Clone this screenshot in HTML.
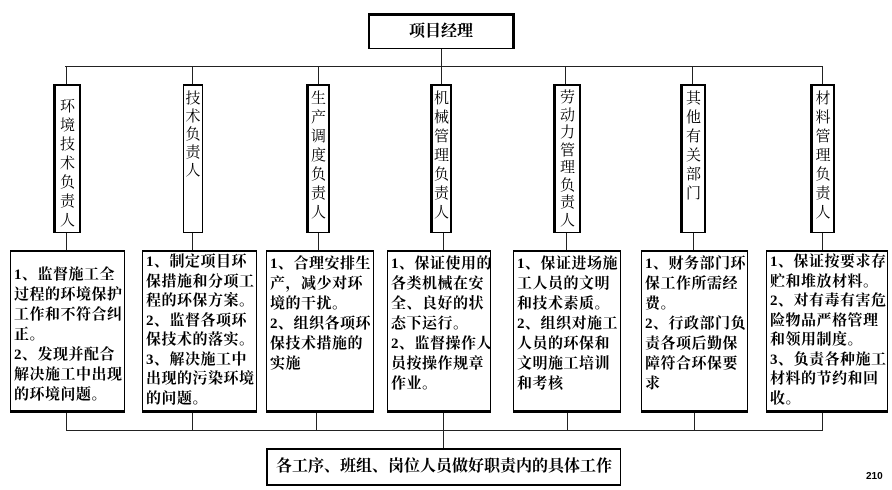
<!DOCTYPE html>
<html><head><meta charset="utf-8"><style>
body{margin:0;width:892px;height:490px;background:#fff;position:relative;overflow:hidden;font-family:"Liberation Serif","Noto Serif CJK SC","Noto Sans CJK SC",serif;color:#000}
.a{position:absolute;box-sizing:border-box}
.l{position:absolute;background:#222}
.v{position:absolute;box-sizing:border-box;border:1px solid #000;border-left:3px solid #000;border-right:2px solid #000;border-top:2px solid #000;font-size:15px;line-height:17px;text-align:center;padding-top:6px;word-break:break-all}
.t{position:absolute;box-sizing:border-box;border:1px solid #000;border-top:2px solid #000;border-bottom:3px solid #000;font-size:15px;letter-spacing:0.5px;line-height:20px;padding:2px 0 0 3px;white-space:nowrap;overflow:hidden;font-weight:bold}
</style></head><body>
<div class="a" style="left:368px;top:13px;width:147px;height:36px;border:2px solid #000;border-top:3px solid #000;border-right:3px solid #000;border-bottom:1px solid #000;font-size:16px;text-align:center;line-height:31px;font-weight:bold">项目经理</div>
<div class="l" style="left:441px;top:49px;width:1px;height:35px"></div>
<div class="l" style="left:65px;top:66px;width:758px;height:1px"></div>
<div class="l" style="left:66px;top:66px;width:1px;height:18px"></div>
<div class="l" style="left:192px;top:66px;width:1px;height:18px"></div>
<div class="l" style="left:318px;top:66px;width:1px;height:18px"></div>
<div class="l" style="left:565px;top:66px;width:1px;height:18px"></div>
<div class="l" style="left:692px;top:66px;width:1px;height:18px"></div>
<div class="l" style="left:822px;top:66px;width:1px;height:18px"></div>

<div class="v" style="left:53px;top:84px;width:28px;height:149px;padding-top:12px;line-height:19px">环境技术负责人</div>
<div class="v" style="left:183px;top:84px;width:20px;height:149px;padding-top:4px;border-left-width:1px;border-right-width:1px;line-height:18px">技术负责人</div>
<div class="v" style="left:306px;top:84px;width:24px;height:149px;padding-top:4px;line-height:19px">生产调度负责人</div>
<div class="v" style="left:430px;top:84px;width:22px;height:149px;padding-top:4px;line-height:19px">机械管理负责人</div>
<div class="v" style="left:553px;top:84px;width:28px;height:149px;padding-top:4px;line-height:17.5px">劳动力管理负责人</div>
<div class="v" style="left:680px;top:84px;width:26px;height:149px;padding-top:4px;line-height:19px">其他有关部门</div>
<div class="v" style="left:810px;top:84px;width:25px;height:149px;padding-top:4px;line-height:19px">材料管理负责人</div>

<div class="l" style="left:66px;top:233px;width:1px;height:17px"></div>
<div class="l" style="left:192px;top:233px;width:1px;height:17px"></div>
<div class="l" style="left:318px;top:233px;width:1px;height:17px"></div>
<div class="l" style="left:443px;top:233px;width:1px;height:17px"></div>
<div class="l" style="left:566px;top:233px;width:1px;height:17px"></div>
<div class="l" style="left:693px;top:233px;width:1px;height:17px"></div>
<div class="l" style="left:822px;top:233px;width:1px;height:17px"></div>

<div class="t" style="left:10px;top:250px;width:115px;height:163px;padding-top:13px">1、监督施工全<br>过程的环境保护<br>工作和不符合纠<br>正。<br>2、发现并配合<br>解决施工中出现<br>的环境问题。</div>
<div class="t" style="left:142px;top:250px;width:115px;height:163px;line-height:19.5px;padding-top:1px">1、制定项目环<br>保措施和分项工<br>程的环保方案。<br>2、监督各项环<br>保技术的落实。<br>3、解决施工中<br>出现的污染环境<br>的问题。</div>
<div class="t" style="left:266px;top:250px;width:108px;height:163px">1、合理安排生<br>产，减少对环<br>境的干扰。<br>2、组织各项环<br>保技术措施的<br>实施</div>
<div class="t" style="left:387px;top:250px;width:104px;height:163px">1、保证使用的<br>各类机械在安<br>全、良好的状<br>态下运行。<br>2、监督操作人<br>员按操作规章<br>作业。</div>
<div class="t" style="left:513px;top:250px;width:108px;height:163px">1、保证进场施<br>工人员的文明<br>和技术素质。<br>2、组织对施工<br>人员的环保和<br>文明施工培训<br>和考核</div>
<div class="t" style="left:641px;top:250px;width:107px;height:163px">1、财务部门环<br>保工作所需经<br>费。<br>2、行政部门负<br>责各项后勤保<br>障符合环保要<br>求</div>
<div class="t" style="left:766px;top:250px;width:122px;height:163px;line-height:19.5px;padding-top:1px">1、保证按要求存<br>贮和堆放材料。<br>2、对有毒有害危<br>险物品严格管理<br>和领用制度。<br>3、负责各种施工<br>材料的节约和回<br>收。</div>

<div class="l" style="left:66px;top:413px;width:1px;height:17px"></div>
<div class="l" style="left:192px;top:413px;width:1px;height:17px"></div>
<div class="l" style="left:316px;top:413px;width:1px;height:17px"></div>
<div class="l" style="left:443px;top:413px;width:1px;height:35px"></div>
<div class="l" style="left:567px;top:413px;width:1px;height:17px"></div>
<div class="l" style="left:694px;top:413px;width:1px;height:17px"></div>
<div class="l" style="left:822px;top:413px;width:1px;height:17px"></div>
<div class="l" style="left:66px;top:430px;width:757px;height:1px"></div>

<div class="a" style="left:266px;top:448px;width:355px;height:38px;border:1px solid #000;border-top:2px solid #000;border-left:2px solid #000;border-bottom:2px solid #000;font-size:16px;line-height:34px;text-align:center;font-weight:bold">各工序、班组、岗位人员做好职责内的具体工作</div>
<div class="a" style="left:866px;top:471px;font-size:10px;font-family:'Liberation Sans',sans-serif;font-weight:bold">210</div>
</body></html>
